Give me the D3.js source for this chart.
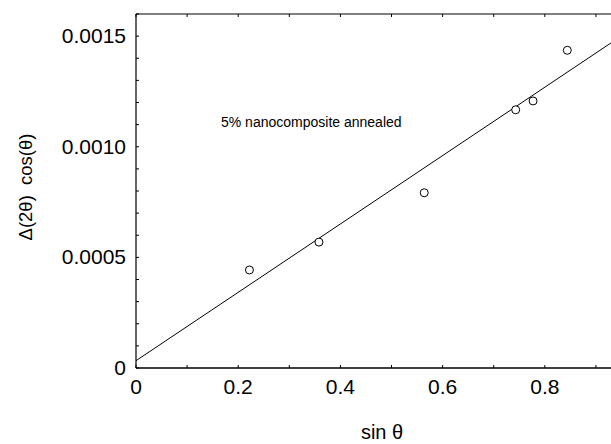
<!DOCTYPE html>
<html>
<head>
<meta charset="utf-8">
<script src="https://cdn.jsdelivr.net/npm/d3@7"></script>
<style>
  body { margin: 0; background: #fff; }
  text { font-family: "Liberation Sans", Arial, sans-serif; fill: #000; }
</style>
</head>
<body>
<div class="chart"></div>
<script>
// measured points
const sinTheta = [0.222, 0.358, 0.564, 0.743, 0.777, 0.844];
const breadth = [0.000443, 0.000569, 0.000792, 0.001167, 0.001207, 0.001436];

// fitted line ends
const fitX = [0, 0.93];
const fitY = [0.000033, 0.00147];

const xTicks = [0, 0.2, 0.4, 0.6, 0.8];
const yTicks = [0, 0.0005, 0.0010, 0.0015];
const yTickLabels = ["0", "0.0005", "0.0010", "0.0015"];

const width = 611, height = 444;
const plotLeft = 136, plotTop = 14, plotRight = 611, plotBottom = 368;

const svg = d3.select(".chart").append("svg")
    .attr("width", width)
    .attr("height", height);

const x = d3.scaleLinear().domain([0, 0.9295]).range([plotLeft, plotRight]);
const y = d3.scaleLinear().domain([0, 0.0016]).range([plotBottom, plotTop]);

// minor ticks
const xMinor = d3.range(0, 0.95, 0.1);
const yMinor = d3.range(0, 0.00161, 0.0001);

const g = svg.append("g");

// left axis
g.append("line").attr("x1", plotLeft).attr("x2", plotLeft)
    .attr("y1", plotTop).attr("y2", plotBottom)
    .attr("stroke", "#000").attr("stroke-width", 1.2);
// top frame
g.append("line").attr("x1", plotLeft).attr("x2", plotRight)
    .attr("y1", plotTop).attr("y2", plotTop)
    .attr("stroke", "#000").attr("stroke-width", 1.2);
// bottom axis
g.append("line").attr("x1", plotLeft).attr("x2", plotRight)
    .attr("y1", plotBottom).attr("y2", plotBottom)
    .attr("stroke", "#000").attr("stroke-width", 1.5);

g.selectAll(".ym").data(yMinor).enter().append("line")
    .attr("x1", plotLeft).attr("x2", plotLeft + 3)
    .attr("y1", d => y(d)).attr("y2", d => y(d))
    .attr("stroke", "#000").attr("stroke-width", 1);

g.selectAll(".xm").data(xMinor).enter().append("line")
    .attr("x1", d => x(d)).attr("x2", d => x(d))
    .attr("y1", plotBottom).attr("y2", plotBottom - 3)
    .attr("stroke", "#000").attr("stroke-width", 1);

g.selectAll(".xt").data(xMinor).enter().append("line")
    .attr("x1", d => x(d)).attr("x2", d => x(d))
    .attr("y1", plotTop).attr("y2", plotTop + 3)
    .attr("stroke", "#000").attr("stroke-width", 1);

// tick labels
svg.selectAll(".yl").data(yTicks).enter().append("text")
    .attr("x", plotLeft - 10)
    .attr("y", d => y(d) + 7)
    .attr("text-anchor", "end")
    .attr("font-size", 21)
    .text((d, i) => yTickLabels[i]);

svg.selectAll(".xl").data(xTicks).enter().append("text")
    .attr("x", d => x(d))
    .attr("y", 394)
    .attr("text-anchor", "middle")
    .attr("font-size", 21)
    .text(d => d === 0 ? "0" : d3.format(".1f")(d));

// axis titles
svg.append("text")
    .attr("x", 382).attr("y", 439)
    .attr("text-anchor", "middle")
    .attr("font-size", 20)
    .text("sin θ");

svg.append("text")
    .attr("transform", "translate(32,187) rotate(-90)")
    .attr("text-anchor", "middle")
    .attr("font-size", 18.5)
    .style("white-space", "pre")
    .text("Δ(2θ)  cos(θ)");

// fit line
const line = d3.line().x(d => x(d[0])).y(d => y(d[1]));
svg.append("path")
    .datum(fitX.map((d, i) => [d, fitY[i]]))
    .attr("d", line)
    .attr("fill", "none")
    .attr("stroke", "#000")
    .attr("stroke-width", 1);

// points
svg.selectAll("circle")
    .data(sinTheta)
    .enter()
    .append("circle")
    .attr("cx", d => x(d))
    .attr("cy", (d, i) => y(breadth[i]))
    .attr("r", 4)
    .attr("fill", "#fff")
    .attr("stroke", "#000")
    .attr("stroke-width", 1);

svg.append("text")
    .attr("x", 221).attr("y", 127)
    .attr("font-size", 14)
    .text("5% nanocomposite annealed");
</script>
</body>
</html>
